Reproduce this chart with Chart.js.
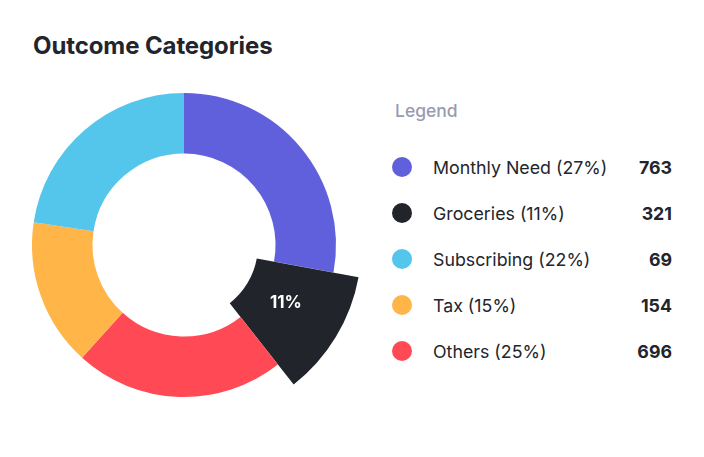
<!DOCTYPE html>
<html>
<head>
<meta charset="utf-8">
<script src="https://cdn.jsdelivr.net/npm/chart.js@4.4.1/dist/chart.umd.min.js"></script>
<style>
  html, body { margin: 0; padding: 0; background: #ffffff; }
  body { width: 704px; height: 457px; position: relative; overflow: hidden; font-family: Inter, "Noto Sans", sans-serif; }
  #title { position: absolute; left: 33px; top: 34px; font-size: 24px; line-height: 24px; font-weight: 700; color: #23252d; letter-spacing: -0.1px; white-space: nowrap; }
  #chartWrap { position: absolute; left: 0; top: 61px; width: 368px; height: 368px; }
  #legendHead { position: absolute; left: 395px; top: 102px; font-size: 17.5px; line-height: 18px; font-weight: 500; color: #9a9aae; }
  .row { position: absolute; left: 392px; width: 280px; height: 46px; display: flex; align-items: center; }
  .dot { width: 20px; height: 20px; border-radius: 50%; flex: none; }
  .lbl { margin-left: 21px; font-size: 17.8px; color: #23252d; white-space: nowrap; flex: 1; }
  .val { font-size: 17.8px; font-weight: 700; color: #23252d; text-align: right; width: 60px; }
</style>
</head>
<body>
<div id="title">Outcome Categories</div>
<div id="chartWrap"><canvas id="c" width="368" height="368"></canvas></div>
<div id="legendHead">Legend</div>
<div id="legend"></div>
<script>
// Arc order as drawn clockwise from the top
const arcLabels = ["Monthly Need", "Groceries", "Others", "Tax", "Subscribing"];
const arcShares = [27.9, 11.5, 22.3, 15.7, 22.6];
const arcColors = ["#6160DC", "#22242C", "#FF4A55", "#FFB547", "#54C5EB"];
const arcTexts = ["", "11%", "", "", ""];

// Legend list (its own order)
const legendLabels = ["Monthly Need", "Groceries", "Subscribing", "Tax", "Others"];
const legendPercents = [27, 11, 22, 15, 25];
const legendValues = [763, 321, 69, 154, 696];
const legendColors = ["#6160DC", "#22242C", "#54C5EB", "#FFB547", "#FF4A55"];

const highlightIndex = 1;

// Build HTML legend
const legendEl = document.getElementById('legend');
legendLabels.forEach((name, i) => {
  const row = document.createElement('div');
  row.className = 'row';
  row.style.top = (144 + i * 46) + 'px';
  row.innerHTML = '<div class="dot" style="background:' + legendColors[i] + '"></div>' +
    '<div class="lbl">' + name + ' (' + legendPercents[i] + '%)</div>' +
    '<div class="val">' + legendValues[i] + '</div>';
  legendEl.appendChild(row);
});

const popOut = {
  id: 'popOut',
  afterDatasetUpdate(chart, args) {
    const meta = chart.getDatasetMeta(args.index);
    const el = meta.data[highlightIndex];
    if (el) {
      el.outerRadius = el.outerRadius + 25.5;
      el.innerRadius = el.innerRadius - 17.5;
    }
  },
  afterDatasetsDraw(chart) {
    const meta = chart.getDatasetMeta(0);
    const ctx = chart.ctx;
    meta.data.forEach((el, i) => {
      if (!arcTexts[i]) return;
      const mid = (el.startAngle + el.endAngle) / 2 - 0.03;
      const r = 117;
      const x = el.x + Math.cos(mid) * r;
      const y = el.y + Math.sin(mid) * r;
      ctx.save();
      ctx.fillStyle = '#ffffff';
      ctx.font = '700 17px Inter';
      ctx.textAlign = 'center';
      ctx.textBaseline = 'middle';
      ctx.fillText(arcTexts[i], x, y);
      ctx.restore();
    });
  }
};

new Chart(document.getElementById('c'), {
  type: 'doughnut',
  data: {
    labels: arcLabels,
    datasets: [{
      data: arcShares,
      backgroundColor: arcColors,
      borderWidth: 0,
      hoverOffset: 0
    }]
  },
  options: {
    responsive: false,
    animation: false,
    radius: 152,
    cutout: '60.2%',
    rotation: 0,
    layout: { padding: 0 },
    plugins: {
      legend: { display: false },
      tooltip: { enabled: false }
    },
    events: []
  },
  plugins: [popOut]
});
</script>
</body>
</html>
